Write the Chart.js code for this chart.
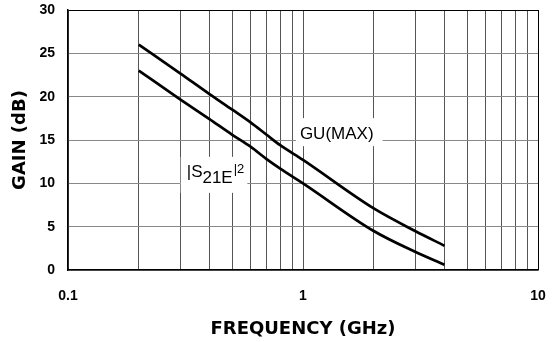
<!DOCTYPE html>
<html><head><meta charset="utf-8">
<script src="https://cdn.jsdelivr.net/npm/chart.js@4/dist/chart.umd.min.js"></script>
<style>html,body{margin:0;padding:0;background:#fff}#wrap{width:554px;height:342px;position:relative}</style>
</head><body><div id="wrap"><canvas id="c"></canvas></div>
<script>
// ---- data ----
const freqGHz = [0.2, 0.3, 0.4, 0.5, 0.6, 0.7, 0.8, 1, 2, 3, 4];
const guMax   = [26.0, 22.7, 20.3, 18.5, 17.0, 15.6, 14.4, 12.7, 7.1, 4.5, 2.8];
const s21e    = [23.0, 19.7, 17.4, 15.6, 14.2, 12.8, 11.7, 10.0, 4.5, 2.1, 0.6];
const xTickValues = [0.1,0.2,0.3,0.4,0.5,0.6,0.7,0.8,0.9,1,2,3,4,5,6,7,8,9,10];
const xTickLabels = ['0.1','','','','','','','','','1','','','','','','','','','10'];
const yTickValues = [0,5,10,15,20,25,30];
const xTitle = 'FREQUENCY (GHz)';
const yTitle = 'GAIN (dB)';
const labelGU = {text:'GU(MAX)', freq:0.97, gain:15.1};
const labelS21 = {pre:'|S', sub:'21E', sup:'|2', freq:0.32, gain:10.75};

const tickFont = {family:'"Liberation Sans", Arial, sans-serif', size:14, weight:'bold'};
const titleFont = {family:'"DejaVu Sans", sans-serif', size:18, weight:'bold'};

const annot = {
  id:'annot',
  beforeDatasetsDraw(chart){
    const {ctx, scales:{x, y}} = chart;
    ctx.save();
    ctx.textBaseline = 'alphabetic';
    // GU(MAX)
    ctx.font = '17px "Liberation Sans", Arial, sans-serif';
    const gx = x.getPixelForValue(labelGU.freq), gy = y.getPixelForValue(labelGU.gain);
    const gw = ctx.measureText(labelGU.text).width;
    ctx.fillStyle = '#fff';
    ctx.fillRect(gx - 4, gy - 21, gw + 13, 28);
    ctx.fillStyle = '#000';
    ctx.fillText(labelGU.text, gx, gy);
    // |S21E|2
    const sx = x.getPixelForValue(labelS21.freq), sy = y.getPixelForValue(labelS21.gain);
    ctx.font = '17px "Liberation Sans", Arial, sans-serif';
    const w1 = ctx.measureText(labelS21.pre).width;
    const w2 = ctx.measureText(labelS21.sub).width;
    ctx.font = '13px "Liberation Sans", Arial, sans-serif';
    const w3 = ctx.measureText(labelS21.sup).width;
    const total = w1 + w2 + 1 + w3;
    ctx.fillStyle = '#fff';
    ctx.fillRect(sx - 6, sy - 20, total + 9, 36);
    ctx.fillStyle = '#000';
    ctx.font = '17px "Liberation Sans", Arial, sans-serif';
    ctx.fillText(labelS21.pre, sx, sy);
    ctx.fillText(labelS21.sub, sx + w1, sy + 6);
    ctx.font = '13px "Liberation Sans", Arial, sans-serif';
    ctx.fillText(labelS21.sup, sx + w1 + w2 + 1, sy - 4);
    ctx.restore();
  }
};

new Chart(document.getElementById('c'), {
  type:'line',
  data:{
    datasets:[
      {label:'GU(MAX)', data:freqGHz.map((f,i)=>({x:f, y:guMax[i]})), borderColor:'#000', borderWidth:2.7, pointRadius:0, cubicInterpolationMode:'monotone', fill:false},
      {label:'|S21E|2', data:freqGHz.map((f,i)=>({x:f, y:s21e[i]})), borderColor:'#000', borderWidth:2.7, pointRadius:0, cubicInterpolationMode:'monotone', fill:false}
    ]
  },
  options:{
    responsive:true, maintainAspectRatio:false, animation:false, devicePixelRatio:1,
    layout:{padding:{left:0, right:16, top:10, bottom:0}},
    plugins:{legend:{display:false}, tooltip:{enabled:false}},
    scales:{
      x:{
        type:'logarithmic', min:0.1, max:10,
        afterBuildTicks:s=>{ s.ticks = xTickValues.map(v=>({value:v})); },
        afterFit:s=>{ s.height = 72; s.paddingLeft = 0; s.paddingRight = 0; },
        ticks:{autoSkip:false, maxRotation:0, minRotation:0, padding:18, color:'#000', font:tickFont,
          callback:(v,i)=>xTickLabels[i]},
        grid:{drawTicks:false, lineWidth:1, color:c=> (c.tick && c.tick.value===10) ? '#000' : '#555'},
        border:{color:'#000', width:1.5},
        title:{display:true, text:xTitle, color:'#000', font:titleFont, padding:{top:0, bottom:2}}
      },
      y:{
        min:0, max:30,
        afterBuildTicks:s=>{ s.ticks = yTickValues.map(v=>({value:v})); },
        afterFit:s=>{ s.width = 68; s.paddingTop = 0; s.paddingBottom = 0; },
        ticks:{padding:13, color:'#000', font:tickFont},
        grid:{drawTicks:false, lineWidth:1, color:c=> (c.tick && c.tick.value===30) ? '#000' : '#888'},
        border:{color:'#000', width:1.5},
        title:{display:true, text:yTitle, color:'#000', font:titleFont, padding:{top:10, bottom:0}}
      }
    }
  },
  plugins:[annot]
});
</script></body></html>
